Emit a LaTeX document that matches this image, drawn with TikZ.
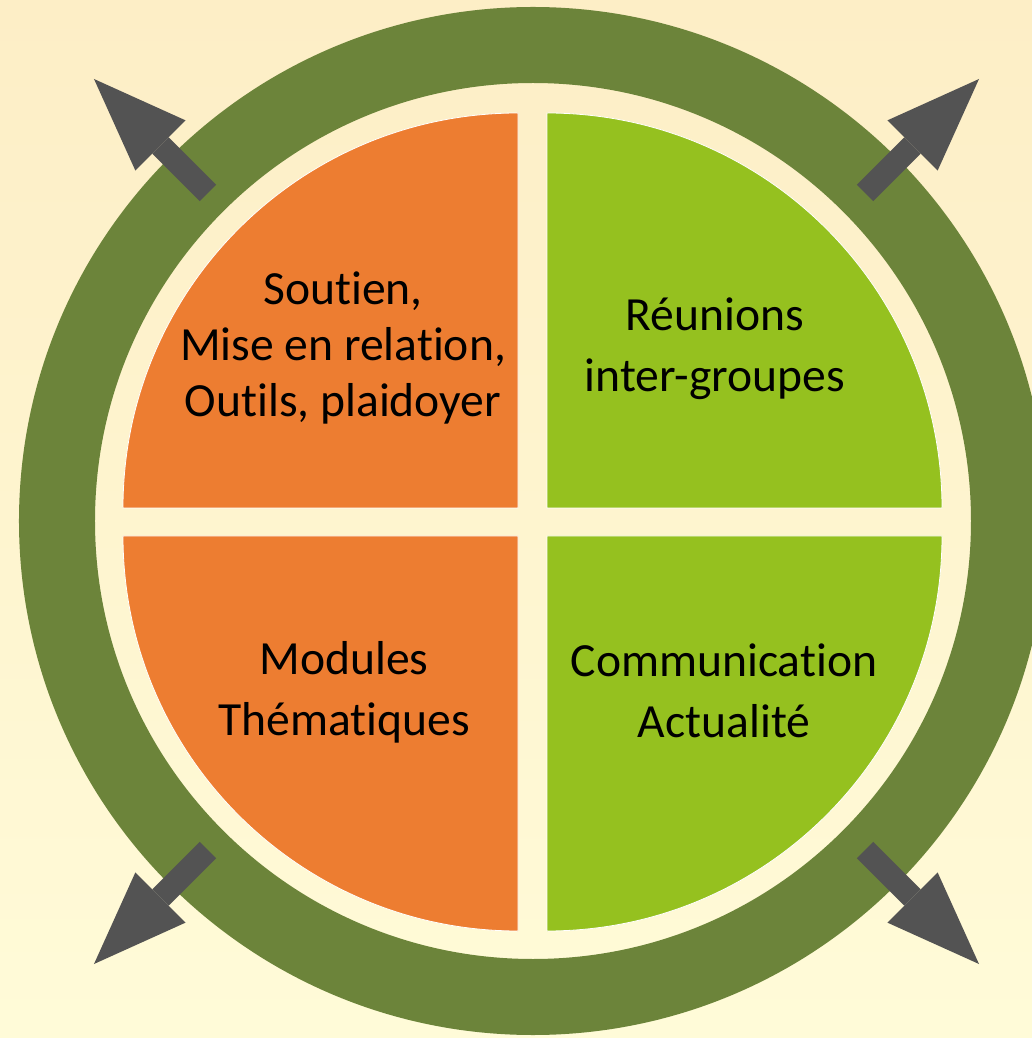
\documentclass[tikz,border=0pt]{standalone}
\usepackage{fontspec}
\setmainfont{Carlito}[Ligatures=NoCommon]
\usetikzlibrary{arrows.meta,positioning}
\definecolor{fond}{HTML}{FDEEC6}
\definecolor{fondclair}{HTML}{FFFBD8}
\definecolor{anneau}{HTML}{6C843A}
\definecolor{orangeq}{HTML}{ED7D31}
\definecolor{vertq}{HTML}{95C11F}
\definecolor{gris}{HTML}{535353}

\begin{document}
\begin{tikzpicture}
[x=0.5pt,y=0.5pt,
quart/.style = {draw=white, line width=0.4pt},
texte/.style = {align=center, anchor=base, inner sep=0pt, font=\fontsize{23.8}{28}\selectfont},
texteb/.style = {texte, font=\fontsize{23.8}{30.5}\selectfont},
fleche/.style = {gris, line width=11.5pt, -{Triangle[length=47pt,width=35.5pt,line width=0pt]}},]

\useasboundingbox (-533,-517) rectangle (499,521);
\shade[top color=fond, bottom color=fondclair] (-533,-517) rectangle (499,521);

% anneau
\fill[anneau, even odd rule] (0,0) circle[radius=514] (0,0) circle[radius=438];

% quarts
\filldraw[quart, fill=orangeq] (-15,13) -- ++(-395,0) arc[start angle=180, end angle=90, radius=395] -- cycle;
\filldraw[quart, fill=vertq] (14,13) -- ++(0,395) arc[start angle=90, end angle=0, radius=395] -- cycle;
\filldraw[quart, fill=orangeq] (-15,-15) -- ++(-395,0) arc[start angle=180, end angle=270, radius=395] -- cycle;
\filldraw[quart, fill=vertq] (14,-15) -- ++(395,0) arc[start angle=0, end angle=-90, radius=395] -- cycle;

\node (soutien) at (-190,104) [texte] {Soutien,\\Mise en relation,\\Outils, plaidoyer};
\node (reunions) at (182,129) [texteb] {Réunions\\inter-groupes};
\node (modules) at (-189,-214) [texteb] {Modules\\Thématiques};
\node (comm) at (191,-216) [texteb] {Communication\\Actualité};

% fleches
\coordinate (hgA) at (-325,328);
\coordinate (hgB) at (-439,442);
\coordinate (hdA) at (332,328);
\coordinate (hdB) at (446,442);
\coordinate (bgA) at (-325,-329);
\coordinate (bgB) at (-439,-443);
\coordinate (bdA) at (332,-329);
\coordinate (bdB) at (446,-443);

\draw[fleche] (hgA) -- (hgB);
\draw[fleche] (hdA) -- (hdB);
\draw[fleche] (bgA) -- (bgB);
\draw[fleche] (bdA) -- (bdB);

\end{tikzpicture}
\end{document}
